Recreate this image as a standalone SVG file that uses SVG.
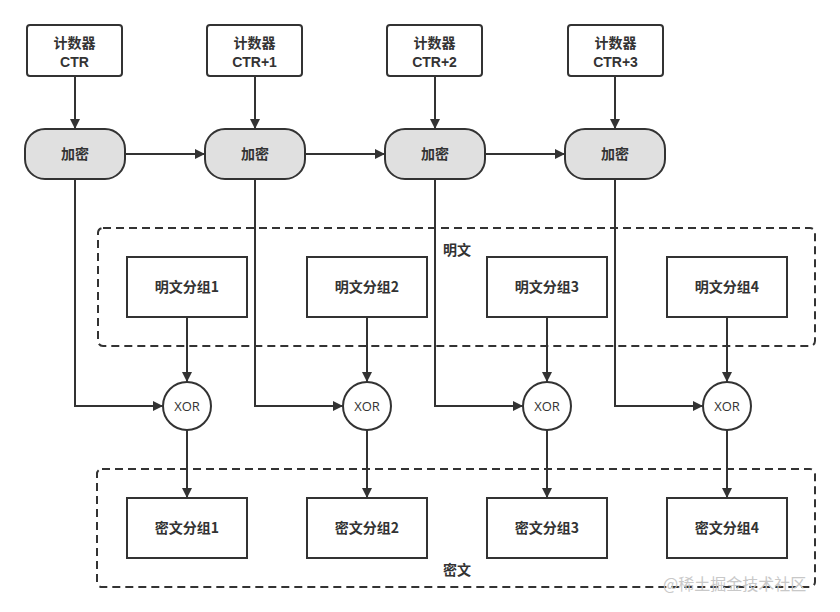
<svg xmlns="http://www.w3.org/2000/svg" width="840" height="612" viewBox="0 0 840 612">
<defs>
<marker id="ah" viewBox="0 0 10 10" refX="10" refY="5" markerWidth="10" markerHeight="10" markerUnits="userSpaceOnUse" orient="auto">
<path d="M0,0 L10,5 L0,10 Z" fill="#333"/>
</marker>
<style>
.box{fill:#fff;stroke:#333;stroke-width:2}
.enc{fill:#e0e0e0;stroke:#333;stroke-width:2}
.grp{fill:none;stroke:#333;stroke-width:2;stroke-dasharray:8 5}
.ln{fill:none;stroke:#333;stroke-width:2}
.t{font-family:"Noto Sans CJK SC","Noto Sans",sans-serif;font-size:14px;font-weight:bold;fill:#333;text-anchor:middle}
.c{font-family:"Liberation Sans",Arial,sans-serif;font-size:14px;font-weight:bold;fill:#333;text-anchor:middle}
.x{font-family:"Open Sans","Noto Sans",sans-serif;font-size:13px;fill:#333;text-anchor:middle}
.wm{font-family:"Noto Sans CJK SC",sans-serif;font-size:16px;fill:#c8c8c8}
</style>
</defs>
<rect width="840" height="612" fill="#fff"/>
<g id="group-plain"><rect class="grp" x="98" y="228" width="717" height="118" rx="5"/><text class="t" x="457" y="255">明文</text></g>
<g id="group-cipher"><rect class="grp" x="97" y="469" width="718" height="118" rx="5"/><text class="t" x="457" y="575">密文</text></g>
<g id="connectors">
<path class="ln" marker-end="url(#ah)" d="M75,76 V129"/>
<path class="ln" marker-end="url(#ah)" d="M255,76 V129"/>
<path class="ln" marker-end="url(#ah)" d="M435,76 V129"/>
<path class="ln" marker-end="url(#ah)" d="M615,76 V129"/>
<path class="ln" marker-end="url(#ah)" d="M125,154 H205"/>
<path class="ln" marker-end="url(#ah)" d="M305,154 H385"/>
<path class="ln" marker-end="url(#ah)" d="M485,154 H565"/>
<path class="ln" marker-end="url(#ah)" d="M75,179 V406 H163"/>
<path class="ln" marker-end="url(#ah)" d="M255,179 V406 H343"/>
<path class="ln" marker-end="url(#ah)" d="M435,179 V406 H523"/>
<path class="ln" marker-end="url(#ah)" d="M615,179 V406 H703"/>
<path class="ln" marker-end="url(#ah)" d="M187,317 V382"/>
<path class="ln" marker-end="url(#ah)" d="M367,317 V382"/>
<path class="ln" marker-end="url(#ah)" d="M547,317 V382"/>
<path class="ln" marker-end="url(#ah)" d="M727,317 V382"/>
<path class="ln" marker-end="url(#ah)" d="M187,430 V498"/>
<path class="ln" marker-end="url(#ah)" d="M367,430 V498"/>
<path class="ln" marker-end="url(#ah)" d="M547,430 V498"/>
<path class="ln" marker-end="url(#ah)" d="M727,430 V498"/>
</g>
<g id="ctr0"><rect class="box" x="27" y="25" width="95" height="51" rx="3"/><text class="t" x="74.5" y="48">计数器</text><text class="c" x="74.5" y="67">CTR</text></g>
<g id="ctr1"><rect class="box" x="207" y="25" width="95" height="51" rx="3"/><text class="t" x="254.5" y="48">计数器</text><text class="c" x="254.5" y="67">CTR+1</text></g>
<g id="ctr2"><rect class="box" x="387" y="25" width="95" height="51" rx="3"/><text class="t" x="434.5" y="48">计数器</text><text class="c" x="434.5" y="67">CTR+2</text></g>
<g id="ctr3"><rect class="box" x="568" y="25" width="95" height="51" rx="3"/><text class="t" x="615.5" y="48">计数器</text><text class="c" x="615.5" y="67">CTR+3</text></g>
<g id="enc0"><rect class="enc" x="25" y="129" width="100" height="50" rx="20"/><text class="t" x="75" y="159">加密</text></g>
<g id="enc1"><rect class="enc" x="205" y="129" width="100" height="50" rx="20"/><text class="t" x="255" y="159">加密</text></g>
<g id="enc2"><rect class="enc" x="385" y="129" width="100" height="50" rx="20"/><text class="t" x="435" y="159">加密</text></g>
<g id="enc3"><rect class="enc" x="565" y="129" width="100" height="50" rx="20"/><text class="t" x="615" y="159">加密</text></g>
<g id="p1"><rect class="box" x="127" y="257" width="120" height="60"/><text class="t" x="187" y="292">明文分组1</text></g>
<g id="p2"><rect class="box" x="307" y="257" width="120" height="60"/><text class="t" x="367" y="292">明文分组2</text></g>
<g id="p3"><rect class="box" x="487" y="257" width="120" height="60"/><text class="t" x="547" y="292">明文分组3</text></g>
<g id="p4"><rect class="box" x="667" y="257" width="120" height="60"/><text class="t" x="727" y="292">明文分组4</text></g>
<g id="x1"><circle class="box" cx="187" cy="406" r="24"/><text class="x" x="187" y="411">XOR</text></g>
<g id="x2"><circle class="box" cx="367" cy="406" r="24"/><text class="x" x="367" y="411">XOR</text></g>
<g id="x3"><circle class="box" cx="547" cy="406" r="24"/><text class="x" x="547" y="411">XOR</text></g>
<g id="x4"><circle class="box" cx="727" cy="406" r="24"/><text class="x" x="727" y="411">XOR</text></g>
<g id="c1"><rect class="box" x="127" y="498" width="120" height="60"/><text class="t" x="187" y="533">密文分组1</text></g>
<g id="c2"><rect class="box" x="307" y="498" width="120" height="60"/><text class="t" x="367" y="533">密文分组2</text></g>
<g id="c3"><rect class="box" x="487" y="498" width="120" height="60"/><text class="t" x="547" y="533">密文分组3</text></g>
<g id="c4"><rect class="box" x="667" y="498" width="120" height="60"/><text class="t" x="727" y="533">密文分组4</text></g>
<text class="wm" x="663" y="590">@稀土掘金技术社区</text>
</svg>
